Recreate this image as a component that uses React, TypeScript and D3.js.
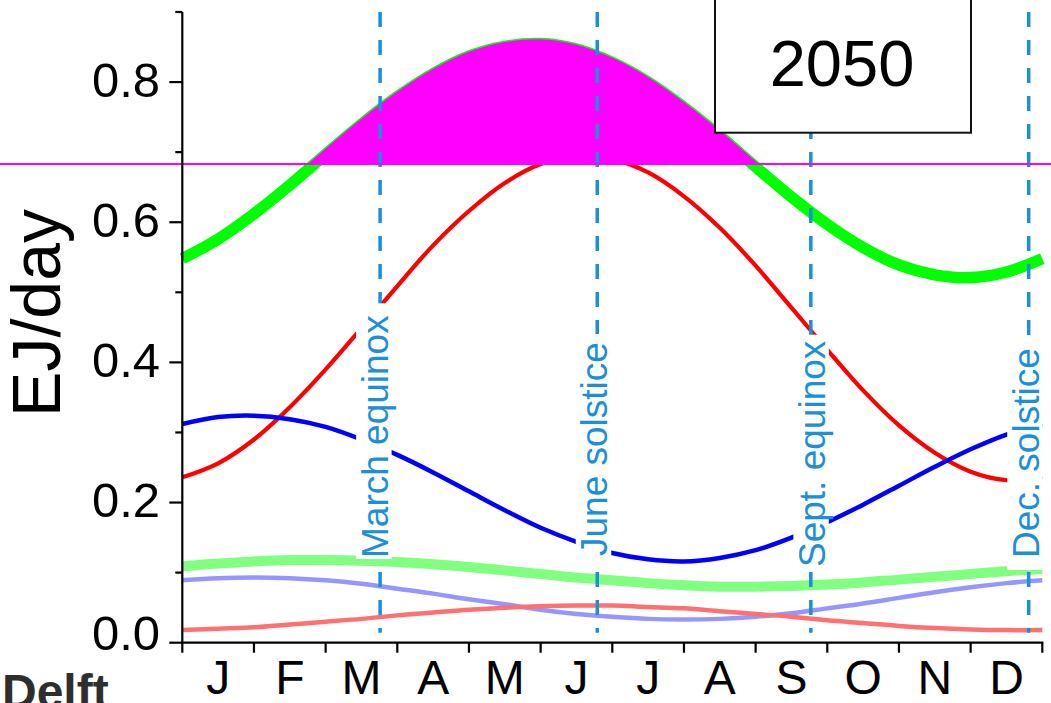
import React, { useEffect, useRef } from "react";
import * as d3 from "d3";

const W = 1051;
const H = 703;

// Sample positions along the year, in months since 1 January (0 = Jan 1, 12 = Dec 31)
const monthPos = [0, 0.5, 1, 1.5, 2, 2.5, 3, 3.5, 4, 4.5, 5, 5.5, 6, 6.5, 7, 7.5, 8, 8.5, 9, 9.5, 10, 10.5, 11, 11.5, 12];
const monthLabels = ["J", "F", "M", "A", "M", "J", "J", "A", "S", "O", "N", "D"];
const yTicks = [0, 0.2, 0.4, 0.6, 0.8];
const yMinorTicks = [0.1, 0.3, 0.5, 0.7, 0.9];

// Daily supply, EJ/day
const totalSupply = [0.548, 0.576, 0.612, 0.653, 0.697, 0.74, 0.779, 0.812, 0.837, 0.851, 0.855, 0.847, 0.828, 0.8, 0.764, 0.723, 0.679, 0.636, 0.597, 0.564, 0.539, 0.525, 0.521, 0.529, 0.548];
const solar = [0.236, 0.256, 0.29, 0.336, 0.39, 0.449, 0.509, 0.567, 0.616, 0.656, 0.683, 0.695, 0.69, 0.671, 0.637, 0.592, 0.538, 0.478, 0.418, 0.36, 0.31, 0.271, 0.244, 0.232, 0.237];
const wind = [0.312, 0.322, 0.324, 0.319, 0.308, 0.29, 0.268, 0.243, 0.216, 0.189, 0.164, 0.144, 0.128, 0.119, 0.116, 0.121, 0.132, 0.15, 0.172, 0.197, 0.224, 0.251, 0.276, 0.297, 0.312];
const totalSupplyLow = [0.109, 0.113, 0.116, 0.118, 0.118, 0.117, 0.115, 0.112, 0.108, 0.103, 0.098, 0.093, 0.089, 0.085, 0.082, 0.08, 0.08, 0.081, 0.083, 0.086, 0.09, 0.094, 0.098, 0.102, 0.105];
const windLow = [0.089, 0.092, 0.093, 0.092, 0.089, 0.084, 0.077, 0.07, 0.062, 0.055, 0.047, 0.041, 0.037, 0.034, 0.033, 0.034, 0.037, 0.042, 0.049, 0.056, 0.064, 0.072, 0.079, 0.085, 0.089];
const solarLow = [0.018, 0.02, 0.022, 0.026, 0.03, 0.034, 0.039, 0.043, 0.047, 0.05, 0.052, 0.053, 0.053, 0.051, 0.049, 0.045, 0.041, 0.037, 0.032, 0.028, 0.024, 0.021, 0.019, 0.018, 0.018];

// Constant demand level; supply above it is shaded as surplus
const demandLevel = 0.683;

// Equinoxes and solstices (months since 1 January)
const seasonMonths = [2.76, 5.79, 8.77, 11.81];
const seasonLabels = ["March equinox", "June solstice", "Sept. equinox", "Dec. solstice"];

const yearLabel = "2050";
const yTitle = "EJ/day";
const footer = "Delft";

const FONT = "'Liberation Sans', Arial, Helvetica, sans-serif";
const MARK_BLUE = "#1b8fdc";

export default function App() {
  const ref = useRef<SVGSVGElement>(null);

  useEffect(() => {
    const svg = d3.select(ref.current);
    svg.selectAll("*").remove();

    const x = d3.scaleLinear().domain([0, 12]).range([182.3, 1042.3]);
    const y = d3.scaleLinear().domain([0, 0.9]).range([642.7, 12]);

    const curve = d3.curveCatmullRom.alpha(0.5);
    const line = d3
      .line<number>()
      .x((_, i) => x(monthPos[i]))
      .y((d) => y(d))
      .curve(curve);

    const defs = svg.append("defs");
    defs
      .append("clipPath")
      .attr("id", "above-demand")
      .append("rect")
      .attr("x", x(0))
      .attr("y", 0)
      .attr("width", x(12) - x(0))
      .attr("height", y(demandLevel));

    const series = [
      { values: totalSupply, color: "#00ff00", width: 11.5 },
      { values: solar, color: "#ff0000", width: 4.2 },
      { values: wind, color: "#0000ff", width: 4.5 },
      { values: totalSupplyLow, color: "#80ff80", width: 10 },
      { values: windLow, color: "#9696ff", width: 4.5 },
      { values: solarLow, color: "#ff7070", width: 4.5 },
    ];

    const curves = svg.append("g");
    series.forEach((s) => {
      curves
        .append("path")
        .attr("d", line(s.values))
        .attr("fill", "none")
        .attr("stroke", s.color)
        .attr("stroke-width", s.width)
        .attr("stroke-linejoin", "round");
    });

    // Surplus above demand
    const area = d3
      .area<number>()
      .x((_, i) => x(monthPos[i]))
      .y0(y(demandLevel))
      .y1((d) => y(d))
      .curve(curve);
    const surplus = svg.append("g").attr("clip-path", "url(#above-demand)");
    surplus.append("path").attr("d", area(totalSupply)).attr("fill", "#ff00ff");
    surplus
      .append("path")
      .attr("d", line(totalSupply))
      .attr("fill", "none")
      .attr("stroke", "#ff00ff")
      .attr("stroke-width", 8.5);

    // Season marker lines
    const marks = svg.append("g");
    seasonMonths.forEach((m) => {
      marks
        .append("line")
        .attr("x1", x(m))
        .attr("x2", x(m))
        .attr("y1", y(0.9))
        .attr("y2", y(0.0143))
        .attr("stroke", MARK_BLUE)
        .attr("stroke-width", 3.5)
        .attr("stroke-dasharray", "15 13");
    });

    // Season labels on white boxes
    const fs = 37;
    const capH = fs * 0.716;
    const labelDx = [7.5, 10, 14, 10];
    const labelBottom = [558, 556, 567, 558];
    const padTop = [12, 8, 6, 6];
    const padBottom = [1, 4, 4, 12];
    seasonMonths.forEach((m, i) => {
      const g = marks
        .append("g")
        .attr("transform", `translate(${x(m) + labelDx[i]},${labelBottom[i]}) rotate(-90)`);
      const rect = g.append("rect").attr("fill", "#ffffff");
      const t = g
        .append("text")
        .attr("x", 0)
        .attr("y", 0)
        .attr("font-family", FONT)
        .attr("font-size", fs)
        .attr("fill", MARK_BLUE)
        .text(seasonLabels[i]);
      const len = (t.node() as SVGTextElement).getComputedTextLength();
      rect
        .attr("x", -padBottom[i])
        .attr("y", -capH - 5)
        .attr("width", len + padBottom[i] + padTop[i])
        .attr("height", capH + 9);
    });

    // Demand level line across the full width
    svg
      .append("line")
      .attr("x1", 0)
      .attr("x2", W)
      .attr("y1", y(demandLevel))
      .attr("y2", y(demandLevel))
      .attr("stroke", "#ff00ff")
      .attr("stroke-width", 2);

    // Axes
    const axes = svg.append("g").attr("stroke", "#000").attr("stroke-width", 2.2);
    axes.append("line").attr("x1", x(0)).attr("x2", x(0)).attr("y1", y(0.9)).attr("y2", y(0));
    axes.append("line").attr("x1", x(0) - 1).attr("x2", x(12) + 1).attr("y1", y(0)).attr("y2", y(0));
    yTicks.forEach((v) => {
      axes.append("line").attr("x1", x(0) - 13).attr("x2", x(0)).attr("y1", y(v)).attr("y2", y(v));
    });
    yMinorTicks.forEach((v) => {
      axes.append("line").attr("x1", x(0) - 7).attr("x2", x(0)).attr("y1", y(v)).attr("y2", y(v));
    });
    d3.range(13).forEach((m) => {
      axes.append("line").attr("x1", x(m)).attr("x2", x(m)).attr("y1", y(0)).attr("y2", y(0) + 10);
    });

    const labels = svg.append("g").attr("font-family", FONT).attr("fill", "#000");
    yTicks.forEach((v) => {
      labels
        .append("text")
        .attr("x", 160)
        .attr("y", y(v) + (v === 0 ? 7.5 : 14.8))
        .attr("text-anchor", "end")
        .attr("font-size", 49)
        .text(d3.format(".1f")(v));
    });
    monthLabels.forEach((lab, i) => {
      labels
        .append("text")
        .attr("x", x(i + 0.5))
        .attr("y", 694)
        .attr("text-anchor", "middle")
        .attr("font-size", 48)
        .text(lab);
    });
    labels
      .append("text")
      .attr("transform", `translate(60,313) rotate(-90)`)
      .attr("text-anchor", "middle")
      .attr("font-size", 68)
      .text(yTitle);

    // Year box
    svg
      .append("rect")
      .attr("x", 715)
      .attr("y", -10)
      .attr("width", 256)
      .attr("height", 142.7)
      .attr("fill", "#fff")
      .attr("stroke", "#111")
      .attr("stroke-width", 2);
    svg
      .append("text")
      .attr("x", 842)
      .attr("y", 86)
      .attr("text-anchor", "middle")
      .attr("font-family", FONT)
      .attr("font-size", 65)
      .attr("fill", "#000")
      .text(yearLabel);

    svg
      .append("text")
      .attr("x", 2)
      .attr("y", 708)
      .attr("font-family", FONT)
      .attr("font-size", 48)
      .attr("font-weight", "bold")
      .attr("fill", "#2e2e2e")
      .text(footer);
  }, []);

  return (
    <svg
      ref={ref}
      width={W}
      height={H}
      style={{ position: "absolute", left: 0, top: 0, background: "#fff" }}
    />
  );
}
